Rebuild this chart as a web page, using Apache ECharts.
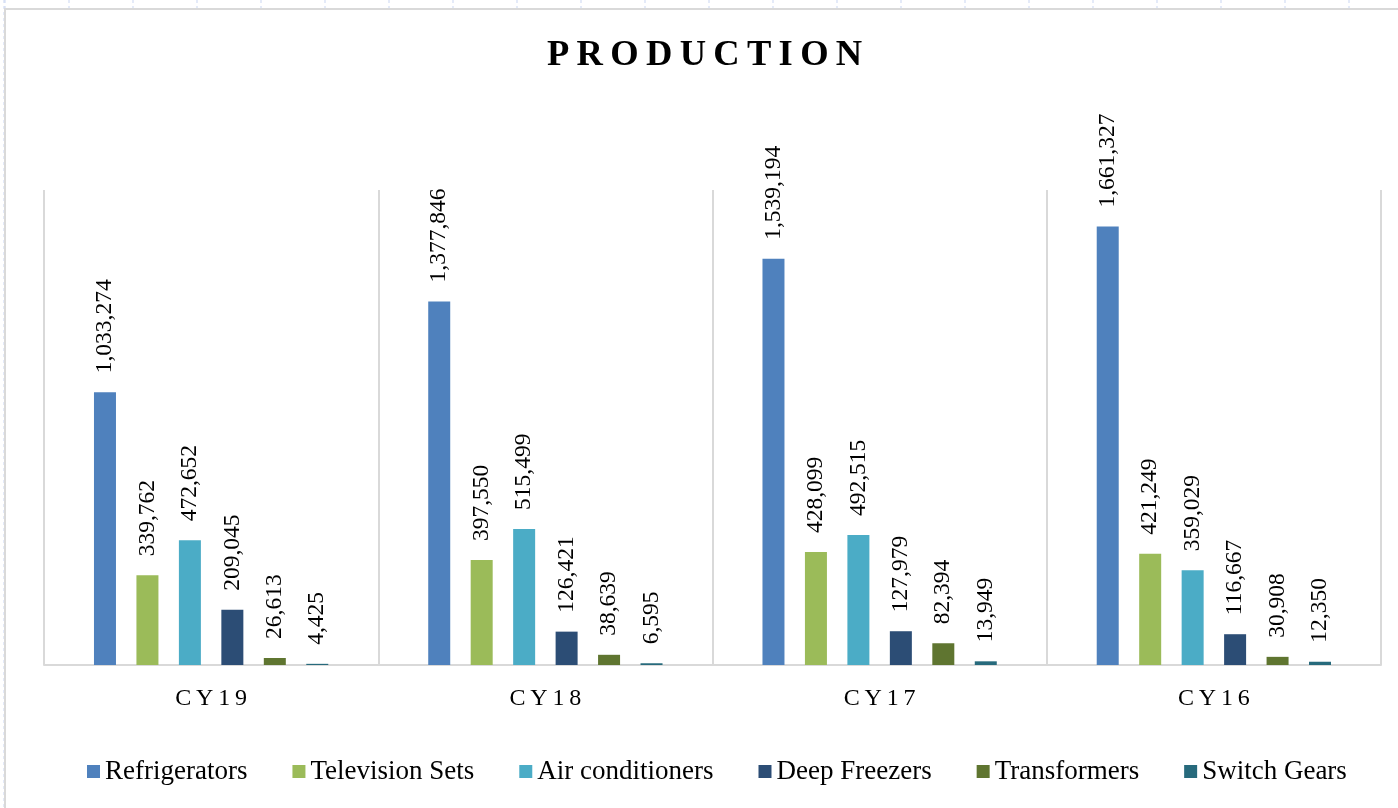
<!DOCTYPE html>
<html>
<head>
<meta charset="utf-8">
<title>Production</title>
<script src="https://cdn.jsdelivr.net/npm/echarts@6/dist/echarts.min.js"></script>
<style>
  html, body { margin: 0; padding: 0; background: #fff; }
  #main { width: 1398px; height: 808px; }
</style>
</head>
<body>
<div id="main"></div>
<script>
// data
var years = ['CY19', 'CY18', 'CY17', 'CY16'];
var refrigerators = [1033274, 1377846, 1539194, 1661327];
var televisionSets = [339762, 397550, 428099, 421249];
var airConditioners = [472652, 515499, 492515, 359029];
var deepFreezers = [209045, 126421, 127979, 116667];
var transformers = [26613, 38639, 82394, 30908];
var switchGears = [4425, 6595, 13949, 12350];

var seriesNames = ['Refrigerators', 'Television Sets', 'Air conditioners', 'Deep Freezers', 'Transformers', 'Switch Gears'];
var seriesData = [refrigerators, televisionSets, airConditioners, deepFreezers, transformers, switchGears];
var colors = ['#4F81BD', '#9BBB59', '#4BACC6', '#2C4D75', '#5F7530', '#276A7C'];

var serif = '"Liberation Serif", "Times New Roman", serif';

// spread letters a bit, like the spaced caps in the picture
function spaced(s) {
    return s.split('').join('\u2009');
}

var series = [];
for (var i = 0; i < seriesNames.length; i++) {
    series.push({
        name: seriesNames[i],
        type: 'bar',
        data: seriesData[i],
        barWidth: 22,
        barGap: '93%',
        itemStyle: { color: colors[i] },
        label: {
            show: true,
            position: 'top',
            rotate: 90,
            align: 'left',
            verticalAlign: 'middle',
            distance: 19,
            fontFamily: serif,
            fontSize: 23.5,
            color: '#000',
            formatter: function (p) {
                return echarts.format.addCommas(p.value);
            }
        }
    });
}

// faint dashed sheet gridlines peeking round the chart frame
var sheetLines = [];
for (var x = 5; x < 1398; x += 64) {
    sheetLines.push({
        type: 'line', silent: true,
        shape: { x1: x, y1: 0, x2: x, y2: 8 },
        style: { stroke: '#c9d6f2', lineWidth: 1, lineDash: [3, 3] }
    });
}
sheetLines.push({
    type: 'line', silent: true,
    shape: { x1: 4, y1: 0, x2: 4, y2: 808 },
    style: { stroke: '#c9d6f2', lineWidth: 1, lineDash: [3, 3] }
});
sheetLines.push({
    type: 'rect', silent: true,
    shape: { x: 5, y: 9, width: 1400, height: 810 },
    style: { fill: null, stroke: '#d9d9d9', lineWidth: 2 }
});

var myChart = echarts.init(document.getElementById('main'));
var option = {
    backgroundColor: '#fff',
    animation: false,
    title: {
        text: spaced('PRODUCTION'),
        left: 542,
        top: 32,
        textStyle: {
            fontFamily: serif,
            fontWeight: 'bold',
            fontSize: 36.5,
            color: '#000'
        }
    },
    legend: {
        data: seriesNames,
        bottom: 18,
        left: 82,
        icon: 'rect',
        itemWidth: 13,
        itemHeight: 13,
        itemGap: 45,
        textStyle: {
            fontFamily: serif,
            fontSize: 27,
            color: '#000'
        }
    },
    grid: {
        left: 44,
        right: 17,
        top: 190,
        bottom: 143
    },
    xAxis: {
        type: 'category',
        data: years,
        axisTick: { show: false },
        axisLine: { lineStyle: { color: '#d9d9d9', width: 2 } },
        splitLine: { show: true, lineStyle: { color: '#d9d9d9', width: 2 } },
        axisLabel: {
            margin: 22,
            fontFamily: serif,
            fontSize: 24,
            color: '#000',
            formatter: function (v) { return spaced(v); }
        }
    },
    yAxis: {
        type: 'value',
        min: 0,
        max: 1800000,
        show: false,
        splitLine: { show: false }
    },
    graphic: sheetLines,
    series: series
};
myChart.setOption(option);
</script>
</body>
</html>
